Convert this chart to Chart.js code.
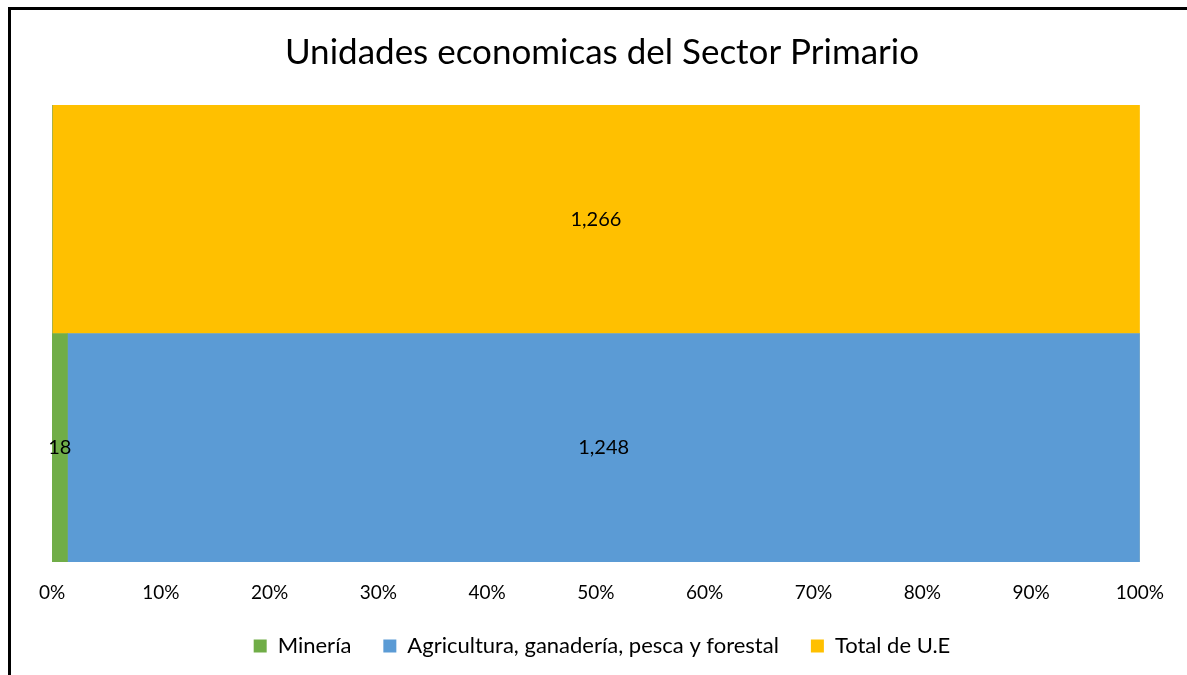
<!DOCTYPE html>
<html>
<head>
<meta charset="utf-8">
<script src="https://cdn.jsdelivr.net/npm/chart.js@4.4.0/dist/chart.umd.min.js"></script>
<style>
    body { margin: 0; background: #fff; overflow: hidden; }
    #wrap { position: absolute; left: 0; top: 0; width: 1187px; height: 675px; }
</style>
</head>
<body>
<div id="wrap"><canvas id="chart_1"></canvas></div>
<script>
const rows = ["Total", "Sector"]
const mineria = [0, 18]
const agricultura = [0, 1248]
const total_ue = [1266, 0]
const tick_labels = ["0%", "10%", "20%", "30%", "40%", "50%", "60%", "70%", "80%", "90%", "100%"]

const font_name = "Lato, 'Open Sans', sans-serif"

// 100% stacked: each value as share of its row
function row_sum(i){
    return mineria[i] + agricultura[i] + total_ue[i]
}
function to_pct(arr){
    return arr.map((v, i) => v / row_sum(i) * 100)
}

const frame_plugin = {
    id: "frame",
    beforeDraw(chart){
        let ctx = chart.ctx
        ctx.save()
        ctx.fillStyle = "#fff"
        ctx.fillRect(0, 0, chart.width, chart.height)
        ctx.strokeStyle = "#000"
        ctx.lineWidth = 3
        ctx.beginPath()
        ctx.moveTo(9.5, chart.height)
        ctx.lineTo(9.5, 8.5)
        ctx.lineTo(chart.width, 8.5)
        ctx.stroke()
        ctx.restore()
    }
}

const label_plugin = {
    id: "labels",
    afterDatasetsDraw(chart){
        let ctx = chart.ctx
        ctx.save()
        ctx.font = "20px " + font_name
        ctx.fillStyle = "#000"
        ctx.textAlign = "center"
        ctx.textBaseline = "middle"
        chart.data.datasets.forEach((ds, di) => {
            let meta = chart.getDatasetMeta(di)
            meta.data.forEach((bar, i) => {
                let raw = ds.raw_values[i]
                if(!raw) return
                let cx = (bar.x + bar.base) / 2
                ctx.fillText(raw.toLocaleString("en-US"), cx, bar.y)
            })
        })
        ctx.restore()
    }
}

const data_1 = {
    labels: rows,
    datasets: [
        {
            label: "Minería",
            data: to_pct(mineria),
            raw_values: mineria,
            backgroundColor: "#70ad47"
        },
        {
            label: "Agricultura, ganadería, pesca y forestal",
            data: to_pct(agricultura),
            raw_values: agricultura,
            backgroundColor: "#5b9bd5"
        },
        {
            label: "Total de U.E",
            data: to_pct(total_ue),
            raw_values: total_ue,
            backgroundColor: "#ffc000"
        }
    ]
}

const config_1 = {
    type: "bar",
    data: data_1,
    options: {
        indexAxis: "y",
        responsive: true,
        maintainAspectRatio: false,
        animation: false,
        datasets: {
            bar: { barPercentage: 1, categoryPercentage: 1, borderWidth: 0 }
        },
        layout: {
            padding: { left: 52, right: 35, top: 0, bottom: 8 }
        },
        scales: {
            x: {
                stacked: true,
                min: 0,
                max: 100,
                grid: { display: false, drawTicks: false },
                border: { display: false },
                ticks: {
                    stepSize: 10,
                    padding: 19,
                    color: "#000",
                    font: { family: font_name, size: 19 },
                    callback: (v, i) => tick_labels[i]
                },
                afterFit(scale){
                    scale.height = 41
                    scale.paddingRight += 4
                }
            },
            y: {
                stacked: true,
                display: false
            }
        },
        plugins: {
            title: {
                display: true,
                text: "Unidades economicas del Sector Primario",
                color: "#000",
                font: { family: font_name, size: 35, weight: "normal" },
                padding: { top: 32, bottom: 31 }
            },
            legend: {
                position: "bottom",
                labels: {
                    color: "#000",
                    boxWidth: 13,
                    boxHeight: 13,
                    padding: 32,
                    font: { family: font_name, size: 22 }
                }
            },
            tooltip: { enabled: false }
        }
    },
    plugins: [frame_plugin, label_plugin]
}

const chart_1 = new Chart(document.getElementById("chart_1").getContext("2d"), config_1)
</script>
</body>
</html>
